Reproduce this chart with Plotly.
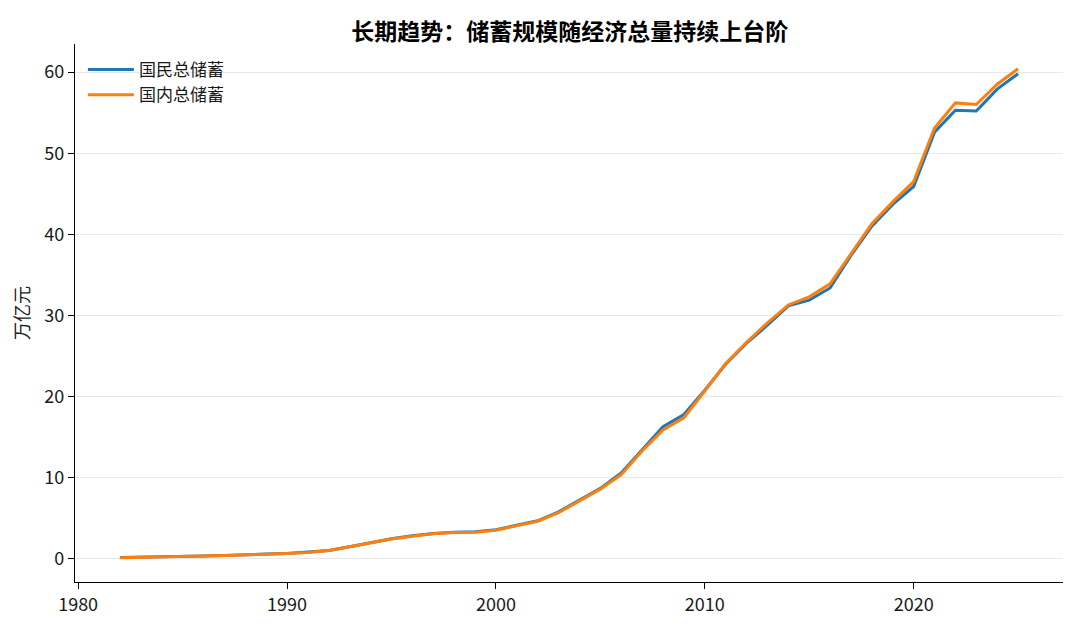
import plotly.graph_objects as go

years = list(range(1982, 2026))
national = [0.17, 0.20, 0.25, 0.31, 0.36, 0.43, 0.55, 0.60, 0.68, 0.82,
            1.05, 1.5, 2.0, 2.5, 2.85, 3.15, 3.3, 3.35, 3.6, 4.15,
            4.7, 5.8, 7.2, 8.7, 10.6, 13.5, 16.3, 17.8, 20.8, 24.0,
            26.6, 28.8, 31.2, 31.9, 33.4, 37.4, 41.0, 43.7, 45.9, 52.6,
            55.3, 55.2, 57.9, 59.8]
domestic = [0.16, 0.19, 0.24, 0.30, 0.35, 0.42, 0.54, 0.59, 0.67, 0.80,
            1.03, 1.5, 2.0, 2.45, 2.8, 3.1, 3.25, 3.3, 3.55, 4.1,
            4.65, 5.7, 7.1, 8.6, 10.4, 13.3, 15.9, 17.4, 20.7, 24.1,
            26.7, 29.1, 31.3, 32.3, 33.9, 37.6, 41.3, 44.0, 46.5, 53.1,
            56.2, 56.0, 58.5, 60.4]

font = "Noto Sans CJK SC"

fig = go.Figure()
fig.add_trace(go.Scatter(x=years, y=national, mode="lines", name="国民总储蓄",
                         line=dict(color="#1f77b4", width=3)))
fig.add_trace(go.Scatter(x=years, y=domestic, mode="lines", name="国内总储蓄",
                         line=dict(color="#ff7f0e", width=3)))

# page body has an 8px margin, so the figure is a bit smaller and margins shifted
fig.update_layout(
    width=1072, height=620,
    paper_bgcolor="white", plot_bgcolor="white",
    font=dict(family=font, size=18, color="#1a1a1a"),
    title=dict(text="<b>长期趋势：储蓄规模随经济总量持续上台阶</b>",
               x=0.524, xanchor="center", y=0.962, yanchor="middle",
               font=dict(size=23, color="black")),
    margin=dict(l=67, r=17, t=36, b=46),
    showlegend=True,
    legend=dict(x=0.008, y=0.985, xanchor="left", yanchor="top",
                bgcolor="rgba(0,0,0,0)", font=dict(size=17, color="#1a1a1a"),
                itemwidth=46, tracegroupgap=0),
)
fig.update_xaxes(range=[1979.85, 2027.15], tickvals=[1980, 1990, 2000, 2010, 2020],
                 showline=True, linecolor="black", linewidth=1.2,
                 ticks="outside", ticklen=6, tickcolor="black",
                 showgrid=False, zeroline=False)
fig.update_yaxes(range=[-2.84, 63.46], tickvals=[0, 10, 20, 30, 40, 50, 60],
                 showline=True, linecolor="black", linewidth=1.2,
                 ticks="outside", ticklen=6, tickcolor="black",
                 showgrid=True, gridcolor="#e8e8e8", gridwidth=1, zeroline=False,
                 title=dict(text="万亿元", standoff=10, font=dict(size=18)))

fig.write_html("out.html")
